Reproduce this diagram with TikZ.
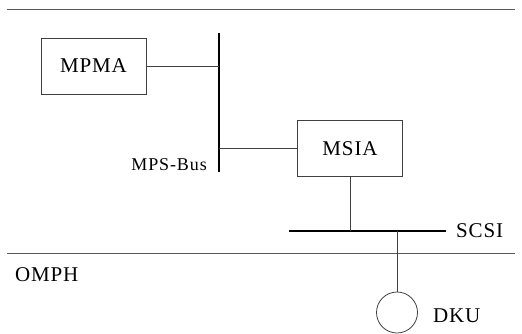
\documentclass[tikz,border=0pt]{standalone}
\usepackage{fontspec}
\setmainfont{Liberation Serif}
\begin{document}
\begin{tikzpicture}[x=1pt,y=-1pt,
  thinline/.style={line width=0.8pt,draw=black!75},
  busline/.style={line width=2.8pt,draw=black},
  labelfont/.style={font=\fontsize{21}{21}\selectfont\addfontfeature{LetterSpace=4}},
  unitbox/.style={draw=black!75,line width=0.8pt,text=black,minimum width=105pt,minimum height=56pt,inner sep=0pt,labelfont},
  plain/.style={inner sep=0pt,text=black,labelfont},
  sep/.style={line width=0.8pt,draw=black!65}]
\useasboundingbox (0,0) rectangle (522,333);
% separators
\coordinate (t1) at (7,9); \coordinate (t2) at (515,9);
\draw[sep] (t1) -- (t2);
\coordinate (m1) at (7,253); \coordinate (m2) at (515,253);
\draw[sep] (m1) -- (m2);
% nodes
\node[unitbox] (mpma) at (93.5,66) {MPMA};
\node[unitbox] (msia) at (350,148.5) {MSIA};
\coordinate (busT) at (219,33); \coordinate (busB) at (219,172);
\draw[busline] (busT) -- (busB);
\node[anchor=base east,inner sep=0pt,text=black,font=\fontsize{18}{18}\selectfont\addfontfeature{LetterSpace=5}] (busl) at (207,170) {MPS-Bus};
\coordinate (scsiL) at (289,231); \coordinate (scsiR) at (446,231);
\draw[busline] (scsiL) -- (scsiR);
\node[plain,anchor=base west] (scsi) at (456,237) {SCSI};
\node[draw=black!75,circle,line width=0.8pt,minimum size=41pt,inner sep=0pt] (dku) at (397,312.5) {};
\node[plain,anchor=base west] (dkul) at (433,322) {DKU};
\node[plain,anchor=base west] (omph) at (15,281) {OMPH};
% connectors
\draw[thinline] (mpma.east) -- (mpma.east -| busT);
\draw[thinline] (msia.west) -- (msia.west -| busT);
\draw[thinline] (msia.south) -- (msia.south |- scsiL);
\draw[thinline] (dku.north |- scsiL) -- (dku.north);
\end{tikzpicture}
\end{document}
